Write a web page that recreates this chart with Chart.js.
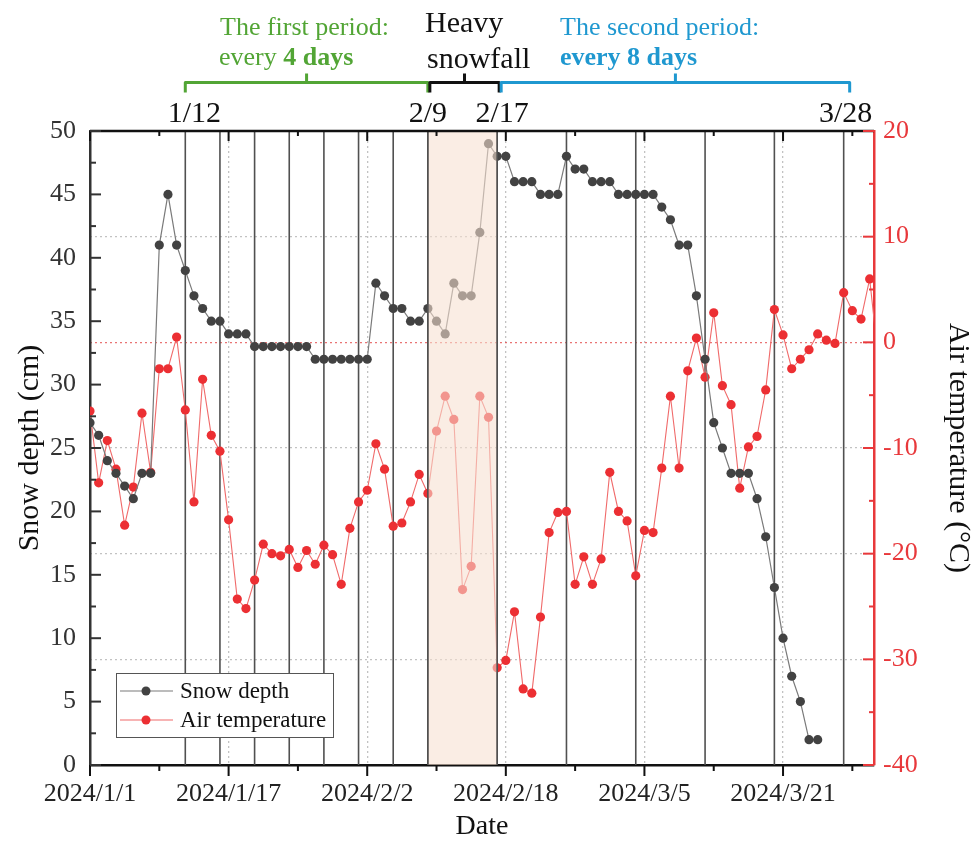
<!DOCTYPE html>
<html>
<head>
<meta charset="utf-8">
<script src="https://cdn.jsdelivr.net/npm/chart.js@4/dist/chart.umd.min.js"></script>
<style>
  html, body { margin: 0; padding: 0; background: #fff; }
  #wrap { width: 978px; height: 841px; }
</style>
</head>
<body>
<div id="wrap"><canvas id="c" width="978" height="841"></canvas></div>
<script>
// Day index 0 = 2024/1/1
const tickDays   = [0, 16, 32, 48, 64, 80];
const tickLabels = ['2024/1/1', '2024/1/17', '2024/2/2', '2024/2/18', '2024/3/5', '2024/3/21'];

// Daily snow depth (cm), from 2024/1/1
const snowDepth = [
  27, 26, 24, 23, 22, 21, 23, 23, 41, 45,
  41, 39, 37, 36, 35, 35, 34, 34, 34, 33,
  33, 33, 33, 33, 33, 33, 32, 32, 32, 32,
  32, 32, 32, 38, 37, 36, 36, 35, 35, 36,
  35, 34, 38, 37, 37, 42, 49, 48, 48, 46,
  46, 46, 45, 45, 45, 48, 47, 47, 46, 46,
  46, 45, 45, 45, 45, 45, 44, 43, 41, 41,
  37, 32, 27, 25, 23, 23, 23, 21, 18, 14,
  10, 7, 5, 2, 2
];

// Daily mean air temperature (°C), from 2024/1/1
const airTemp = [
  -6.5, -13.3, -9.3, -12.0, -17.3, -13.7, -6.7, -12.3, -2.5, -2.5,
  0.5, -6.4, -15.1, -3.5, -8.8, -10.3, -16.8, -24.3, -25.2, -22.5,
  -19.1, -20.0, -20.2, -19.6, -21.3, -19.7, -21.0, -19.2, -20.1, -22.9,
  -17.6, -15.1, -14.0, -9.6, -12.0, -17.4, -17.1, -15.1, -12.5, -14.3,
  -8.4, -5.1, -7.3, -23.4, -21.2, -5.1, -7.1, -30.8, -30.1, -25.5,
  -32.8, -33.2, -26.0, -18.0, -16.1, -16.0, -22.9, -20.3, -22.9, -20.5,
  -12.3, -16.0, -16.9, -22.1, -17.8, -18.0, -11.9, -5.1, -11.9, -2.7,
  0.4, -3.3, 2.8, -4.1, -5.9, -13.8, -9.9, -8.9, -4.5, 3.1,
  0.7, -2.5, -1.6, -0.7, 0.8, 0.2, -0.1, 4.7, 3.0, 2.2,
  6.0, -1.6
];

// Sampling dates (day index): every 4 days, then every 8 days
const samplingDays = [11, 15, 19, 23, 27, 31, 35, 39, 47, 55, 63, 71, 79, 87];
// Heavy snowfall window
const snowfallStart = 39;
const snowfallEnd = 47;
// Dates labelled above the plot
const markDays   = [11, 39, 47, 87];
const markLabels = ['1/12', '2/9', '2/17', '3/28'];

const SERIF = '"Liberation Serif", "Times New Roman", serif';
const GREEN = '#52a535';
const BLUE  = '#1f98d0';
const RED   = '#e8383b';

Chart.defaults.font.family = SERIF;

const decorations = {
  id: 'decorations',
  beforeDatasetsDraw(chart) {
    const { ctx, chartArea: a, scales: { x } } = chart;
    ctx.save();
    ctx.strokeStyle = '#505050';
    ctx.lineWidth = 1.6;
    samplingDays.forEach(d => {
      const px = x.getPixelForValue(d);
      ctx.beginPath();
      ctx.moveTo(px, a.top);
      ctx.lineTo(px, a.bottom);
      ctx.stroke();
    });
    ctx.restore();
  },
  afterDatasetsDraw(chart) {
    const { ctx, chartArea: a, scales: { x } } = chart;
    const x0 = x.getPixelForValue(snowfallStart);
    const x1 = x.getPixelForValue(snowfallEnd);
    ctx.save();
    ctx.fillStyle = 'rgba(246, 224, 208, 0.58)';
    ctx.fillRect(x0, a.top, x1 - x0, a.bottom - a.top);
    ctx.strokeStyle = '#505050';
    ctx.lineWidth = 1.6;
    [x0, x1].forEach(px => {
      ctx.beginPath();
      ctx.moveTo(px, a.top);
      ctx.lineTo(px, a.bottom);
      ctx.stroke();
    });
    ctx.restore();
  },
  afterDraw(chart) {
    const { ctx, chartArea: a, scales: { x, y, y2 } } = chart;
    ctx.save();

    // top frame line
    ctx.strokeStyle = '#111';
    ctx.lineWidth = 2.5;
    ctx.beginPath();
    ctx.moveTo(a.left, a.top);
    ctx.lineTo(a.right, a.top);
    ctx.stroke();

    // x tick marks: outward at the bottom, inward at the top
    ctx.lineWidth = 2;
    for (let d = 0; d <= 88; d += 8) {
      const px = x.getPixelForValue(d);
      const major = d % 16 === 0;
      ctx.strokeStyle = '#111';
      ctx.beginPath();
      ctx.moveTo(px, a.bottom);
      ctx.lineTo(px, a.bottom + (major ? 11 : 6));
      ctx.moveTo(px, a.top);
      ctx.lineTo(px, a.top + (major ? 10 : 5));
      ctx.stroke();
    }
    // left tick marks (inward)
    ctx.strokeStyle = '#333';
    for (let v = 0; v <= 50; v += 2.5) {
      const py = y.getPixelForValue(v);
      const major = v % 5 === 0;
      ctx.beginPath();
      ctx.moveTo(a.left, py);
      ctx.lineTo(a.left + (major ? 11 : 6), py);
      ctx.stroke();
    }
    // right tick marks (inward)
    ctx.strokeStyle = RED;
    for (let v = -40; v <= 20; v += 5) {
      const py = y2.getPixelForValue(v);
      const major = v % 10 === 0;
      ctx.beginPath();
      ctx.moveTo(a.right, py);
      ctx.lineTo(a.right - (major ? 11 : 5), py);
      ctx.stroke();
    }

    // legend
    const lx = a.left + 26, ly = a.bottom - 92;
    ctx.fillStyle = '#fff';
    ctx.fillRect(lx, ly, 217, 64);
    ctx.strokeStyle = '#555';
    ctx.lineWidth = 1;
    ctx.strokeRect(lx + 0.5, ly + 0.5, 217, 64);
    chart.data.datasets.forEach((ds, i) => {
      const cy = ly + 18 + i * 29;
      ctx.strokeStyle = ds.borderColor;
      ctx.lineWidth = 1.2;
      ctx.beginPath();
      ctx.moveTo(lx + 4, cy);
      ctx.lineTo(lx + 57, cy);
      ctx.stroke();
      ctx.fillStyle = ds.pointBackgroundColor;
      ctx.beginPath();
      ctx.arc(lx + 30, cy, 4.5, 0, Math.PI * 2);
      ctx.fill();
      ctx.fillStyle = '#111';
      ctx.font = '23px ' + SERIF;
      ctx.textAlign = 'left';
      ctx.textBaseline = 'middle';
      ctx.fillText(ds.label, lx + 64, cy + 1);
    });

    // date marks above the plot
    const markShift = [9, 0, 5, 2];
    ctx.fillStyle = '#111';
    ctx.font = '30px ' + SERIF;
    ctx.textAlign = 'center';
    ctx.textBaseline = 'alphabetic';
    markDays.forEach((d, i) => {
      ctx.fillText(markLabels[i], x.getPixelForValue(d) + markShift[i], 122);
    });

    // period brackets
    const by = 82.5;
    function bracket(xa, xb, color) {
      ctx.strokeStyle = color;
      ctx.lineWidth = 3;
      ctx.lineJoin = 'round';
      ctx.beginPath();
      ctx.moveTo(xa, by + 10);
      ctx.lineTo(xa, by);
      ctx.lineTo(xb, by);
      ctx.lineTo(xb, by + 10);
      const xm = (xa + xb) / 2;
      ctx.moveTo(xm, by);
      ctx.lineTo(xm, by - 9);
      ctx.stroke();
    }
    const p1 = x.getPixelForValue(11), p2 = x.getPixelForValue(39);
    const p3 = x.getPixelForValue(47), p4 = x.getPixelForValue(87);
    bracket(p1, p2, GREEN);
    bracket(p2 + 2, p3 + 2, '#111');
    bracket(p3 + 4, p4 + 6, BLUE);

    // period captions
    ctx.textAlign = 'left';
    ctx.fillStyle = GREEN;
    ctx.font = '26px ' + SERIF;
    ctx.fillText('The first period:', 220, 35);
    let t = 'every ';
    ctx.fillText(t, 219, 65);
    let w = ctx.measureText(t).width;
    ctx.font = 'bold 26px ' + SERIF;
    ctx.fillText('4 days', 219 + w, 65);

    ctx.fillStyle = BLUE;
    ctx.font = '26px ' + SERIF;
    ctx.fillText('The second period:', 560, 35);
    ctx.font = 'bold 26px ' + SERIF;
    ctx.fillText('every 8 days', 560, 65);

    ctx.fillStyle = '#111';
    ctx.font = '30px ' + SERIF;
    ctx.fillText('Heavy', 425, 32);
    ctx.fillText('snowfall', 427, 68);

    ctx.restore();
  }
};

new Chart(document.getElementById('c'), {
  type: 'line',
  data: {
    datasets: [
      {
        label: 'Snow depth',
        data: snowDepth.map((v, i) => ({ x: i, y: v })),
        yAxisID: 'y',
        borderColor: '#7a7a7a',
        borderWidth: 1.2,
        pointBackgroundColor: '#424242',
        pointBorderWidth: 0,
        pointRadius: 4.6,
        tension: 0,
        clip: 0
      },
      {
        label: 'Air temperature',
        data: airTemp.map((v, i) => ({ x: i, y: v })),
        yAxisID: 'y2',
        borderColor: '#f06a6a',
        borderWidth: 1.1,
        pointBackgroundColor: '#ec2f33',
        pointBorderWidth: 0,
        pointRadius: 4.6,
        tension: 0,
        clip: 0
      }
    ]
  },
  options: {
    responsive: false,
    animation: false,
    events: [],
    layout: { padding: { top: 131, left: 0, right: 0, bottom: 0 } },
    plugins: { legend: { display: false }, tooltip: { enabled: false } },
    scales: {
      x: {
        type: 'linear',
        position: 'bottom',
        min: 0,
        max: 90.5,
        afterFit: s => { s.height = 76; },
        afterBuildTicks: s => { s.ticks = tickDays.map(v => ({ value: v })); },
        ticks: {
          autoSkip: false,
          maxRotation: 0,
          padding: 14,
          color: '#222',
          font: { size: 26 },
          callback: (v, i) => tickLabels[i]
        },
        grid: { display: true, drawTicks: false, color: '#c2c2c2', lineWidth: 1.3 },
        border: { display: true, color: '#111', width: 2.5, dash: [2, 3] },
        title: { display: true, text: 'Date', color: '#111', font: { size: 28, lineHeight: 1 }, padding: 0 }
      },
      y: {
        position: 'left',
        min: 0,
        max: 50,
        afterFit: s => { s.width = 90; },
        ticks: { stepSize: 5, padding: 14, color: '#333', font: { size: 26 } },
        grid: { display: false, drawTicks: false },
        border: { display: true, color: '#333', width: 2.5 },
        title: { display: true, text: 'Snow depth (cm)', color: '#111', font: { size: 30, lineHeight: 1.2 }, padding: { top: 12 } }
      },
      y2: {
        position: 'right',
        min: -40,
        max: 20,
        afterFit: s => { s.width = 104; },
        ticks: { stepSize: 10, padding: 9, color: RED, font: { size: 26 } },
        grid: {
          display: true,
          drawTicks: false,
          lineWidth: 1.3,
          color: c => (c.tick && c.tick.value === 0) ? 'rgba(226, 70, 70, 0.75)' : '#c2c2c2'
        },
        border: { display: true, color: RED, width: 2.5, dash: [2, 3] },
        title: { display: true, text: 'Air temperature (°C)', color: '#111', font: { size: 30, lineHeight: 1.2 }, padding: { top: 2 } }
      }
    }
  },
  plugins: [decorations]
});
</script>
</body>
</html>
